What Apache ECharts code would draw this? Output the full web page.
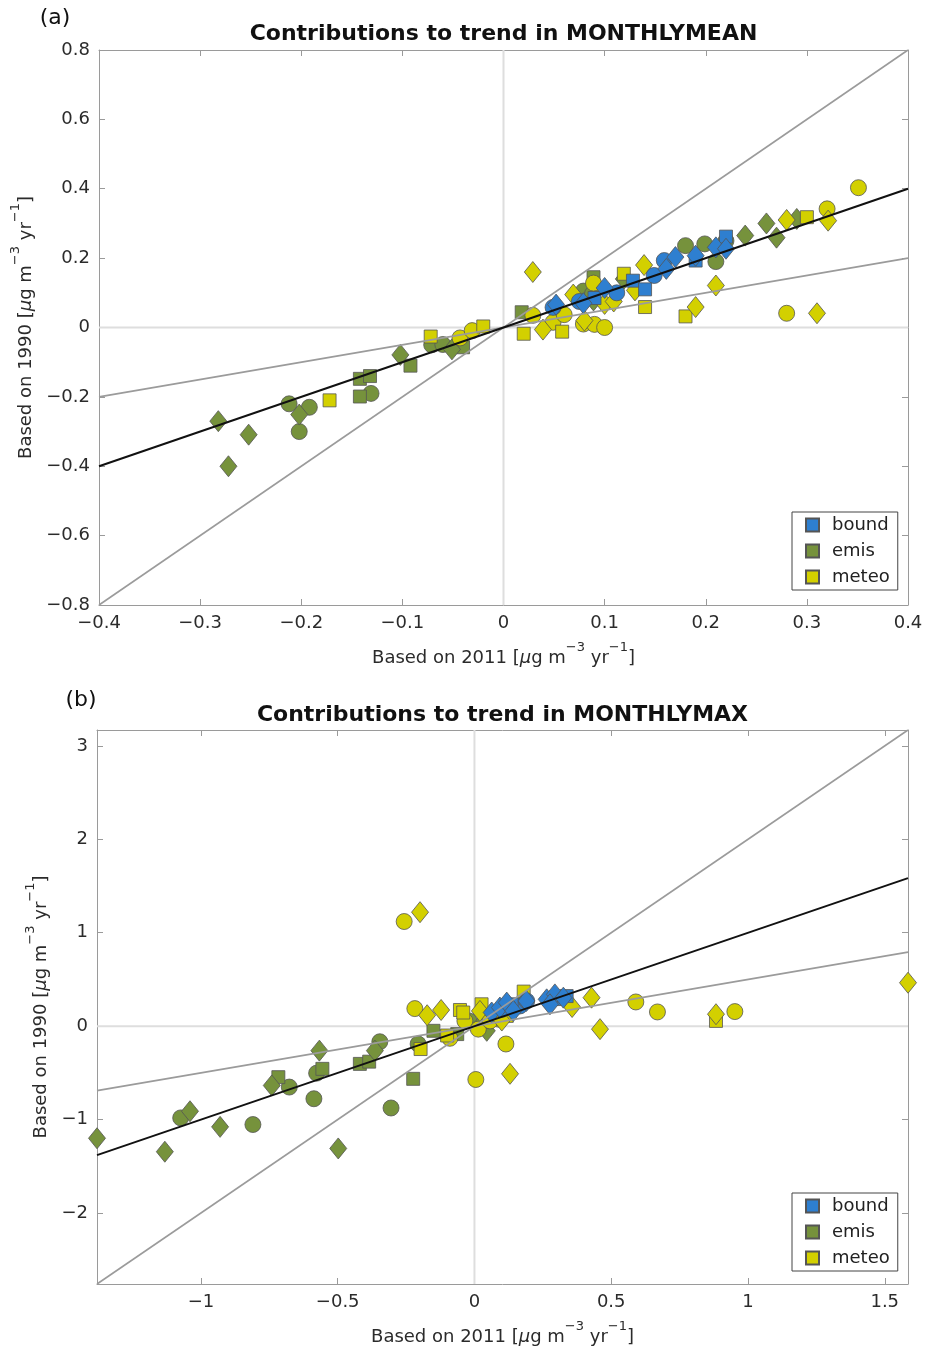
<!DOCTYPE html>
<html><head><meta charset="utf-8">
<script src="https://cdn.jsdelivr.net/npm/echarts@6/dist/echarts.min.js"></script>
<style>html,body{margin:0;padding:0;background:#fff}#c{width:928px;height:1353px}</style>
</head><body><div id="c"></div>
<script>
// ---------- Panel (a): MONTHLYMEAN ----------
const aBoundCircle = [[0.049,0.058],[0.112,0.10],[0.149,0.15],[0.159,0.193],[0.075,0.075]];
const aBoundDiamond = [[0.052,0.066],[0.079,0.07],[0.10,0.114],[0.161,0.169],[0.17,0.203],[0.19,0.207],[0.21,0.231],[0.22,0.227]];
const aBoundSquare = [[0.128,0.135],[0.14,0.11],[0.19,0.193],[0.22,0.262],[0.09,0.085]];
const aEmisCircle = [[-0.212,-0.22],[-0.192,-0.23],[-0.202,-0.30],[-0.131,-0.19],[-0.071,-0.05],[-0.06,-0.049],[0.079,0.105],[0.088,0.097],[0.18,0.236],[0.199,0.241],[0.21,0.19],[0.22,0.25]];
const aEmisDiamond = [[-0.282,-0.27],[-0.252,-0.309],[-0.272,-0.40],[-0.202,-0.251],[-0.102,-0.079],[-0.051,-0.063],[0.089,0.078],[0.119,0.14],[0.239,0.265],[0.26,0.30],[0.27,0.259],[0.29,0.313]];
const aEmisSquare = [[-0.142,-0.148],[-0.132,-0.14],[-0.142,-0.199],[-0.092,-0.11],[-0.04,-0.057],[0.018,0.044],[0.089,0.145]];
const aMeteoCircle = [[-0.043,-0.03],[-0.031,-0.009],[0.029,0.035],[0.049,0.015],[0.06,0.037],[0.079,0.01],[0.09,0.009],[0.10,0.0],[0.089,0.128],[0.28,0.041],[0.32,0.342],[0.351,0.403]];
const aMeteoDiamond = [[0.029,0.16],[0.039,-0.006],[0.08,0.02],[0.069,0.095],[0.10,0.068],[0.109,0.075],[0.13,0.107],[0.139,0.18],[0.19,0.059],[0.21,0.121],[0.28,0.31],[0.321,0.308],[0.31,0.041]];
const aMeteoSquare = [[-0.172,-0.21],[-0.072,-0.026],[-0.02,0.003],[0.02,-0.018],[0.058,-0.012],[0.119,0.155],[0.14,0.059],[0.18,0.032],[0.30,0.318]];

// ---------- Panel (b): MONTHLYMAX ----------
const bBoundCircle = [[0.166,0.216],[0.191,0.269],[0.10,0.18]];
const bBoundDiamond = [[0.063,0.146],[0.093,0.199],[0.118,0.252],[0.142,0.163],[0.264,0.287],[0.294,0.34],[0.325,0.305],[0.276,0.234],[0.19,0.27]];
const bBoundSquare = [[0.136,0.234],[0.337,0.322],[0.30,0.29]];
const bEmisCircle = [[-1.074,-0.982],[-0.81,-1.053],[-0.677,-0.652],[-0.587,-0.777],[-0.577,-0.503],[-0.346,-0.167],[-0.305,-0.876],[-0.206,-0.191],[-0.02,0.056]];
const bEmisDiamond = [[-1.38,-1.20],[-1.132,-1.344],[-1.04,-0.911],[-0.93,-1.078],[-0.741,-0.635],[-0.567,-0.262],[-0.498,-1.309],[-0.364,-0.262],[0.045,-0.05],[0.02,0.0]];
const bEmisSquare = [[-0.717,-0.546],[-0.556,-0.457],[-0.419,-0.404],[-0.385,-0.38],[-0.224,-0.564],[-0.15,-0.05],[-0.063,-0.085]];
const bMeteoCircle = [[-0.257,1.12],[-0.218,0.188],[-0.035,0.056],[0.014,-0.032],[0.09,0.074],[0.057,0.056],[0.115,-0.191],[0.005,-0.571],[0.59,0.259],[0.669,0.152],[0.952,0.156],[-0.09,-0.13]];
const bMeteoDiamond = [[-0.199,1.22],[-0.173,0.117],[-0.122,0.173],[0.02,0.163],[0.13,-0.51],[0.357,0.205],[0.428,0.305],[0.459,-0.032],[0.883,0.128],[1.585,0.465],[0.10,0.06]];
const bMeteoSquare = [[-0.197,-0.245],[-0.053,0.173],[-0.041,0.146],[0.026,0.234],[0.081,0.146],[0.118,0.11],[0.18,0.37],[0.883,0.056],[-0.10,-0.10]];

// reference lines: y = slope * x
const refSlopes = [2, 0.5];
const fitSlope = 1;

// axis extents and tick labels
const aXRange = [-0.4, 0.4], aYRange = [-0.8, 0.8];
const bXRange = [-1.38, 1.585], bYRange = [-2.76, 3.17];
const titles = ['Contributions to trend in MONTHLYMEAN', 'Contributions to trend in MONTHLYMAX'];
const panelTags = ['(a)', '(b)'];
const categories = ['bound', 'emis', 'meteo'];

const colors = {bound: '#2e7fd0', emis: '#76923c', meteo: '#d3d000'};
const FONT = 'DejaVu Sans';
const symbolSizes = {circle: 16, rect: 13, diamond: [17, 21]};

const panels = [
  {data: {bound: {circle: aBoundCircle, diamond: aBoundDiamond, rect: aBoundSquare},
          emis: {circle: aEmisCircle, diamond: aEmisDiamond, rect: aEmisSquare},
          meteo: {circle: aMeteoCircle, diamond: aMeteoDiamond, rect: aMeteoSquare}},
   x: aXRange, y: aYRange},
  {data: {bound: {circle: bBoundCircle, diamond: bBoundDiamond, rect: bBoundSquare},
          emis: {circle: bEmisCircle, diamond: bEmisDiamond, rect: bEmisSquare},
          meteo: {circle: bMeteoCircle, diamond: bMeteoDiamond, rect: bMeteoSquare}},
   x: bXRange, y: bYRange}
];

function fmt(step) {
  return function (v) {
    if (Math.abs(v / step - Math.round(v / step)) > 1e-6) return '';
    if (Math.abs(v) < 1e-9) return '0';
    return String(Math.round(v * 100) / 100).replace('-', '\u2212');
  };
}

const axisColor = '#9a9a9a';
function mkAxis(gridIndex, pos, range, interval, step, showLabel, name, nameGap) {
  const ax = {
    type: 'value', gridIndex, position: pos, min: range[0], max: range[1],
    axisLine: {show: true, onZero: false, lineStyle: {color: axisColor, width: 1}},
    axisTick: {show: true, inside: true, length: 6, lineStyle: {color: axisColor}},
    splitLine: {show: false},
    axisLabel: {show: showLabel, color: '#2b2b2b', fontSize: 18, fontFamily: FONT, margin: 9,
                formatter: fmt(step), showMinLabel: interval ? true : false, showMaxLabel: interval ? true : false}
  };
  if (interval) ax.interval = interval;
  if (name) {
    ax.name = name; ax.nameLocation = 'middle'; ax.nameGap = nameGap;
    ax.nameTextStyle = {
      color: '#2b2b2b', fontFamily: FONT, fontSize: 18,
      rich: {
        n: {fontSize: 18, fontFamily: FONT, color: '#2b2b2b', lineHeight: 26, verticalAlign: 'bottom'},
        mu: {fontSize: 18, fontFamily: FONT, color: '#2b2b2b', fontStyle: 'italic', lineHeight: 26, verticalAlign: 'bottom'},
        s: {fontSize: 13, fontFamily: FONT, color: '#2b2b2b', lineHeight: 13, verticalAlign: 'top'}
      }
    };
  }
  return ax;
}
const xName = '{n|Based on 2011 [}{mu|\u03bc}{n|g m}{s|\u22123}{n| yr}{s|\u22121}{n|]}';
const yName = '{n|Based on 1990 [}{mu|\u03bc}{n|g m}{s|\u22123}{n| yr}{s|\u22121}{n|]}';

const grids = [
  {left: 99, top: 50, width: 809, height: 555},
  {left: 97, top: 730, width: 811, height: 554}
];

const xAxes = [
  mkAxis(0, 'bottom', aXRange, 0.1, 0.1, true, xName, 36),
  mkAxis(0, 'top', aXRange, 0.1, 0.1, false),
  mkAxis(1, 'bottom', bXRange, null, 0.5, true, xName, 36),
  mkAxis(1, 'top', bXRange, null, 0.5, false)
];
const yAxes = [
  mkAxis(0, 'left', aYRange, 0.2, 0.2, true, yName, 56),
  mkAxis(0, 'right', aYRange, 0.2, 0.2, false),
  mkAxis(1, 'left', bYRange, null, 1, true, yName, 29),
  mkAxis(1, 'right', bYRange, null, 1, false)
];

const series = [];
panels.forEach((p, i) => {
  const ax = i * 2;
  // zero lines
  series.push({type: 'line', xAxisIndex: ax, yAxisIndex: ax, symbol: 'none', silent: true, z: 1,
    data: [[0, p.y[0]], [0, p.y[1]]], lineStyle: {color: '#dedede', width: 2}});
  series.push({type: 'line', xAxisIndex: ax, yAxisIndex: ax, symbol: 'none', silent: true, z: 1,
    data: [[p.x[0], 0], [p.x[1], 0]], lineStyle: {color: '#dedede', width: 2}});
  ['emis', 'meteo', 'bound'].forEach((cat, ci) => {
    ['circle', 'rect', 'diamond'].forEach(shape => {
      series.push({
        type: 'scatter', name: cat, xAxisIndex: ax, yAxisIndex: ax, clip: false,
        data: p.data[cat][shape], symbol: shape, symbolSize: symbolSizes[shape], z: 3 + ci,
        itemStyle: {color: colors[cat], borderColor: '#555', borderWidth: 0.8, opacity: 1},
        emphasis: {disabled: true}
      });
    });
  });
  refSlopes.forEach(s => {
    series.push({type: 'line', xAxisIndex: ax, yAxisIndex: ax, symbol: 'none', silent: true, z: 8,
      data: [[p.x[0], s * p.x[0]], [p.x[1], s * p.x[1]]], lineStyle: {color: '#9b9b9b', width: 1.6}});
  });
  series.push({type: 'line', xAxisIndex: ax, yAxisIndex: ax, symbol: 'none', silent: true, z: 9,
    data: [[p.x[0], fitSlope * p.x[0]], [p.x[1], fitSlope * p.x[1]]], lineStyle: {color: '#111', width: 2}});
});

function mkLegend(top) {
  return {
    data: categories.map(c => ({name: c, icon: 'rect'})),
    orient: 'vertical', left: 792, top: top, width: 106,
    itemWidth: 13, itemHeight: 13, itemGap: 6,
    padding: [3, 8, 3, 13],
    backgroundColor: '#fff', borderColor: '#444', borderWidth: 1,
    selectedMode: false,
    textStyle: {fontSize: 18, fontFamily: FONT, color: '#222', lineHeight: 20, padding: [0, 0, 0, 8]}
  };
}

const graphic = [
  {type: 'text', x: 503.5, y: 34, z: 100, style: {text: titles[0], font: 'bold 22px "' + FONT + '"', fill: '#111', align: 'center', verticalAlign: 'middle', textAlign: 'center', textVerticalAlign: 'middle'}},
  {type: 'text', x: 502.5, y: 715, z: 100, style: {text: titles[1], font: 'bold 22px "' + FONT + '"', fill: '#111', align: 'center', verticalAlign: 'middle', textAlign: 'center', textVerticalAlign: 'middle'}},
  {type: 'text', x: 55, y: 18, z: 100, style: {text: panelTags[0], font: '22px "' + FONT + '"', fill: '#111', align: 'center', verticalAlign: 'middle', textAlign: 'center', textVerticalAlign: 'middle'}},
  {type: 'text', x: 81, y: 700, z: 100, style: {text: panelTags[1], font: '22px "' + FONT + '"', fill: '#111', align: 'center', verticalAlign: 'middle', textAlign: 'center', textVerticalAlign: 'middle'}}
];

const chart = echarts.init(document.getElementById('c'), null, {renderer: 'canvas'});
chart.setOption({
  animation: false,
  backgroundColor: '#fff',
  grid: grids,
  xAxis: xAxes,
  yAxis: yAxes,
  legend: [mkLegend(512), mkLegend(1193)],
  graphic: graphic,
  series: series
});
</script>
</body></html>
